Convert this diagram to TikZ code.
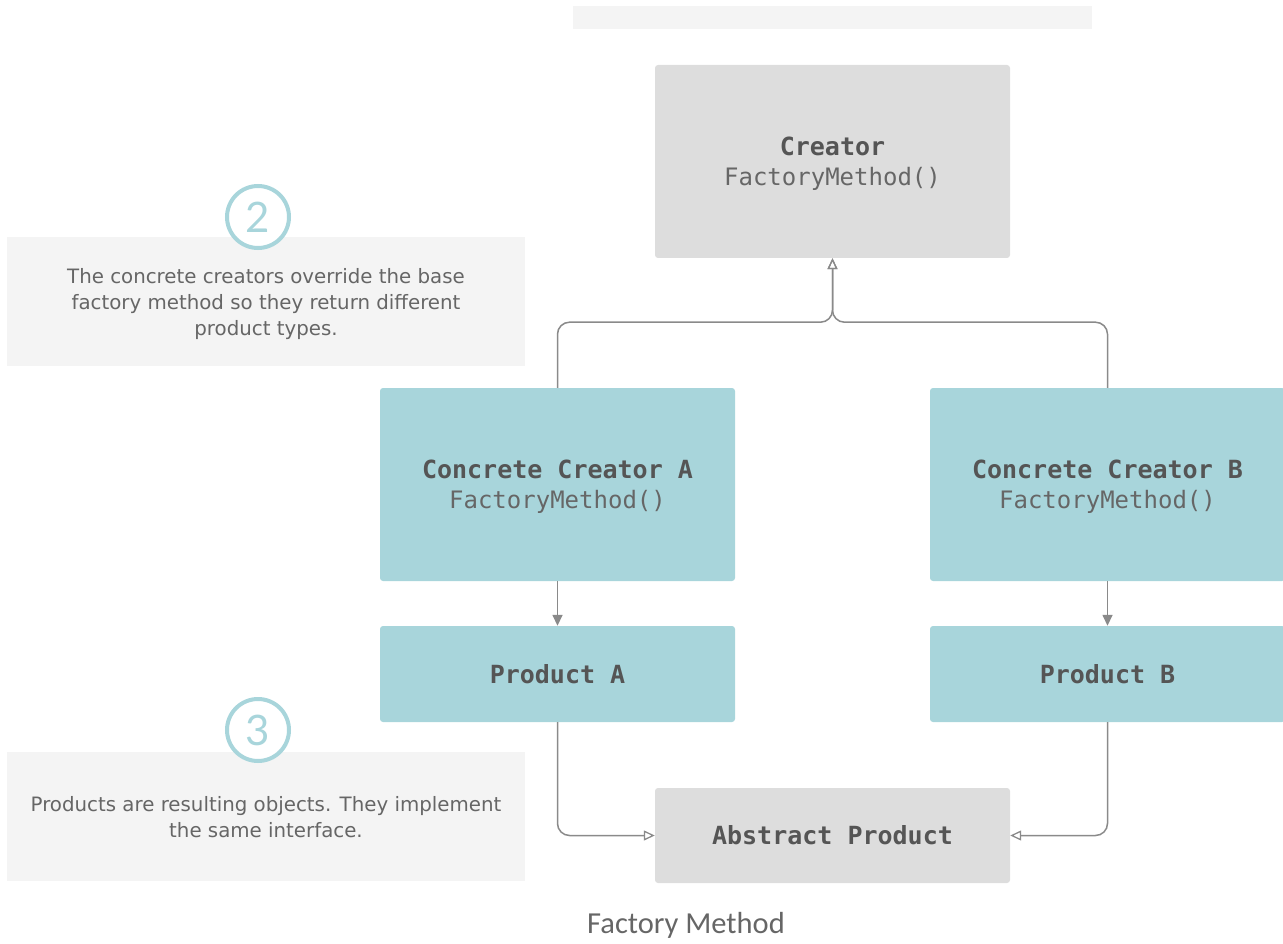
\documentclass[tikz,border=0pt]{standalone}
\usepackage{fontspec}
\setmainfont{DejaVu Sans}
\newfontfamily\monof{DejaVu Sans Mono}
\newfontfamily\notef{DejaVu Sans}
\newfontfamily\capf{Carlito}
\newfontfamily\numf{Lato}
\usetikzlibrary{arrows.meta,calc}
\definecolor{teal}{HTML}{A8D5DB}
\definecolor{boxgray}{HTML}{DDDDDD}
\definecolor{notegray}{HTML}{F4F4F4}
\definecolor{txt}{HTML}{555555}
\definecolor{mtxt}{HTML}{666666}
\definecolor{conn}{HTML}{8A8A8A}
\tikzset{
  uml/.style={rectangle, rounded corners=3pt, minimum width=355pt, inner sep=0pt, align=center, text=txt, font=\monof\fontsize{25}{30}\selectfont},
  graybox/.style={uml, fill=boxgray},
  tealbox/.style={uml, fill=teal},
  notebox/.style={rectangle, fill=notegray, minimum width=518pt, minimum height=129pt, inner sep=0pt, align=center, text=mtxt, font=\notef\fontsize{19.8}{26}\selectfont},
  numcirc/.style={circle, draw=teal, line width=4pt, fill=white, minimum size=62pt, inner sep=0pt, text=teal, font=\numf\fontsize{42}{42}\selectfont},
  link/.style={draw=conn, line width=1.5pt, rounded corners=12pt},
  inherit/.style={link, -{Triangle[open, length=11pt, width=10pt, line width=1.3pt]}},
  assoc/.style={link, -{Triangle[length=11pt, width=10pt]}},
  bname/.style={font=\monof\bfseries\fontsize{25}{30}\selectfont},
}
\newcommand{\mth}[1]{{\fontsize{24}{30}\selectfont\color{mtxt}#1}}
\newcommand{\dn}[2]{\raisebox{-#1}[\height][\depth]{\begin{tabular}{@{}c@{}}#2\end{tabular}}}
\begin{document}
\begin{tikzpicture}[x=1pt,y=-1pt]
\useasboundingbox (0,0) rectangle (1283,944);
\fill[notegray] (573,6) rectangle (1092,29);
\node[graybox, minimum height=193pt] (creator) at (832.5,161.5) {\dn{3pt}{\textbf{Creator}\\\mth{FactoryMethod()}}};
\node[tealbox, minimum height=193pt] (cca) at (557.5,484.5) {\dn{3pt}{\textbf{Concrete Creator A}\\\mth{FactoryMethod()}}};
\node[tealbox, minimum height=193pt] (ccb) at (1107.5,484.5) {\dn{3pt}{\textbf{Concrete Creator B}\\\mth{FactoryMethod()}}};
\node[tealbox, minimum height=96pt, bname] (pa) at (557.5,674) {Product A};
\node[tealbox, minimum height=96pt, bname] (pb) at (1107.5,674) {Product B};
\node[graybox, minimum height=95pt, bname] (ap) at (832.5,835.5) {Abstract Product};
\node[notebox] (n2) at (266,301.5) {\dn{3pt}{The concrete creators override the base\\factory method so they return different\\product types.}};
\node[numcirc] (c2) at (258,217) {2};
\node[notebox] (n3) at (266,816.5) {\dn{3pt}{Products are resulting objects. They implement\\the same interface.}};
\node[numcirc] (c3) at (258,730) {3};
\node[text=mtxt, font=\capf\fontsize{30.5}{32}\selectfont] (cap) at (686,925) {Factory Method};
\draw[inherit] (cca.north) |- ($(creator.south)+(0,64)$) -- (creator.south);
\draw[inherit] (ccb.north) |- ($(creator.south)+(0,64)$) -- (creator.south);
\draw[assoc] (cca.south) -- (pa.north);
\draw[assoc] (ccb.south) -- (pb.north);
\draw[inherit] (pa.south) |- (ap.west);
\draw[inherit] (pb.south) |- (ap.east);
\end{tikzpicture}
\end{document}
